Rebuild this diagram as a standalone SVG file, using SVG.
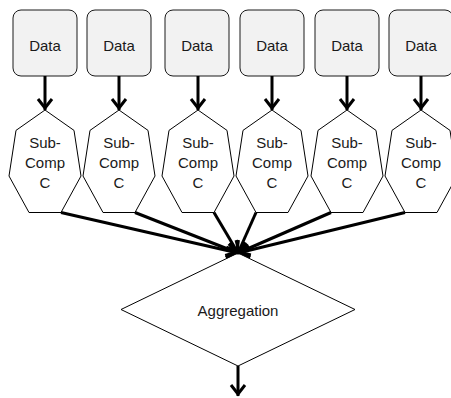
<svg xmlns="http://www.w3.org/2000/svg" width="451" height="398" viewBox="0 0 451 398">
<style>
.data rect{fill:#f2f2f2;stroke:#1a1a1a;stroke-width:1}
.comp polygon{fill:#fff;stroke:#000;stroke-width:1}
.agg polygon{fill:#fff;stroke:#000;stroke-width:1}
text{font-family:"Liberation Sans",Arial,sans-serif;font-size:15px;fill:#1a1a1a;text-anchor:middle}
.conn line{stroke:#000;stroke-width:3;fill:none;marker-end:url(#ah)}
</style>
<defs>
<marker id="ah" markerUnits="userSpaceOnUse" viewBox="0 0 18 18" markerWidth="18" markerHeight="18" refX="15" refY="9" orient="auto" overflow="visible">
<path d="M4,2 L13,9 L4,16" fill="none" stroke="#000" stroke-width="3" stroke-linejoin="miter"/>
</marker>
<polygon id="hept" points="0,110 29,130.4 36,176 16,212.5 -16,212.5 -36,176 -29,130.4"/>
</defs>
<g id="data1" class="data"><rect x="13" y="10" width="64" height="66" rx="8"/><text x="45" y="50.5">Data</text></g>
<g id="data2" class="data"><rect x="87" y="10" width="64" height="66" rx="8"/><text x="119" y="50.5">Data</text></g>
<g id="data3" class="data"><rect x="165" y="10" width="64" height="66" rx="8"/><text x="197" y="50.5">Data</text></g>
<g id="data4" class="data"><rect x="240" y="10" width="64" height="66" rx="8"/><text x="272" y="50.5">Data</text></g>
<g id="data5" class="data"><rect x="315" y="10" width="64" height="66" rx="8"/><text x="347" y="50.5">Data</text></g>
<g id="data6" class="data"><rect x="389" y="10" width="64" height="66" rx="8"/><text x="421" y="50.5">Data</text></g>

<g id="comp1" class="comp" transform="translate(45,0)"><polygon points="0,110 29,130.4 36,176 16,212.5 -16,212.5 -36,176 -29,130.4"/><text x="0" y="148">Sub-</text><text x="0" y="168">Comp</text><text x="0" y="188">C</text></g>
<g id="comp2" class="comp" transform="translate(119,0)"><polygon points="0,110 29,130.4 36,176 16,212.5 -16,212.5 -36,176 -29,130.4"/><text x="0" y="148">Sub-</text><text x="0" y="168">Comp</text><text x="0" y="188">C</text></g>
<g id="comp3" class="comp" transform="translate(198,0)"><polygon points="0,110 29,130.4 36,176 16,212.5 -16,212.5 -36,176 -29,130.4"/><text x="0" y="148">Sub-</text><text x="0" y="168">Comp</text><text x="0" y="188">C</text></g>
<g id="comp4" class="comp" transform="translate(272,0)"><polygon points="0,110 29,130.4 36,176 16,212.5 -16,212.5 -36,176 -29,130.4"/><text x="0" y="148">Sub-</text><text x="0" y="168">Comp</text><text x="0" y="188">C</text></g>
<g id="comp5" class="comp" transform="translate(347,0)"><polygon points="0,110 29,130.4 36,176 16,212.5 -16,212.5 -36,176 -29,130.4"/><text x="0" y="148">Sub-</text><text x="0" y="168">Comp</text><text x="0" y="188">C</text></g>
<g id="comp6" class="comp" transform="translate(421,0)"><polygon points="0,110 29,130.4 36,176 16,212.5 -16,212.5 -36,176 -29,130.4"/><text x="0" y="148">Sub-</text><text x="0" y="168">Comp</text><text x="0" y="188">C</text></g>

<g id="aggregation" class="agg"><polygon points="238,253 355,309.5 238,366 121,309.5"/><text x="238" y="316">Aggregation</text></g>

<g id="connectors" class="conn">
<line x1="45" y1="76" x2="45" y2="110"/>
<line x1="119" y1="76" x2="119" y2="110"/>
<line x1="198" y1="76" x2="198" y2="110"/>
<line x1="272" y1="76" x2="272" y2="110"/>
<line x1="347" y1="76" x2="347" y2="110"/>
<line x1="421" y1="76" x2="421" y2="110"/>
<line x1="61" y1="212.5" x2="238" y2="253"/>
<line x1="135" y1="212.5" x2="238" y2="253"/>
<line x1="214" y1="212.5" x2="238" y2="253"/>
<line x1="256" y1="212.5" x2="238" y2="253"/>
<line x1="331" y1="212.5" x2="238" y2="253"/>
<line x1="405" y1="212.5" x2="238" y2="253"/>
<line x1="238" y1="366" x2="238" y2="396"/>
</g>
</svg>
